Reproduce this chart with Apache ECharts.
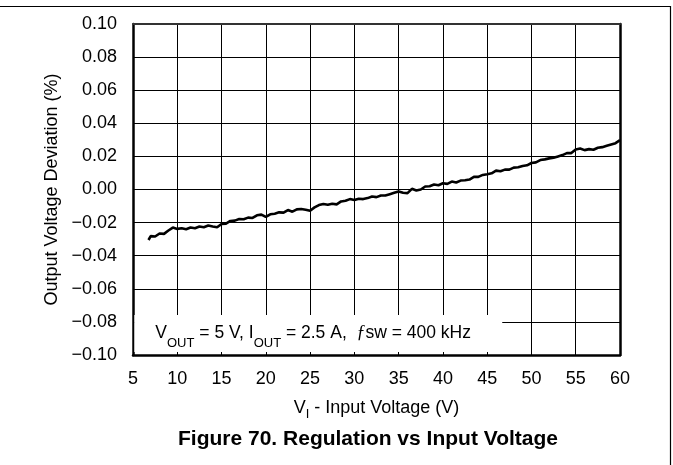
<!DOCTYPE html>
<html>
<head>
<meta charset="utf-8">
<title>Regulation vs Input Voltage</title>
<script src="https://cdn.jsdelivr.net/npm/echarts@6/dist/echarts.min.js"></script>
<style>
  html, body { margin: 0; padding: 0; background: #fff; }
  #chart { width: 673px; height: 465px; }
</style>
</head>
<body>
<div id="chart"></div>
<script>
// Input voltage samples (V)
const inputVoltage = [
  6.75, 7.0, 7.5, 8.0, 8.5, 9.0, 9.5, 10.0, 10.5, 11.0, 11.5, 12.0, 12.5, 13.0, 13.5, 14.0, 14.5,
  15.0, 15.5, 16.0, 16.5, 17.0, 17.5, 18.0, 18.5, 19.0, 19.5, 20.0, 20.5, 21.0, 21.5, 22.0, 22.5,
  23.0, 23.5, 24.0, 24.5, 25.0, 25.5, 26.0, 26.5, 27.0, 27.5, 28.0, 28.5, 29.0, 29.5, 30.0, 30.5,
  31.0, 31.5, 32.0, 32.5, 33.0, 33.5, 34.0, 34.5, 35.0, 35.5, 36.0, 36.5, 37.0, 37.5, 38.0, 38.5,
  39.0, 39.5, 40.0, 40.5, 41.0, 41.5, 42.0, 42.5, 43.0, 43.5, 44.0, 44.5, 45.0, 45.5, 46.0, 46.5,
  47.0, 47.5, 48.0, 48.5, 49.0, 49.5, 50.0, 50.5, 51.0, 51.5, 52.0, 52.5, 53.0, 53.5, 54.0, 54.5,
  55.0, 55.5, 56.0, 56.5, 57.0, 57.5, 58.0, 58.5, 59.0, 59.5, 60.0
];

// Output voltage deviation (%) at each input voltage
const deviation = [
  -0.0305, -0.0282, -0.0284, -0.0266, -0.0268, -0.0248, -0.0230, -0.0238, -0.0234, -0.0240, -0.0230, -0.0234, -0.0224, -0.0228, -0.0218, -0.0224, -0.0228,
  -0.0208, -0.0206, -0.0190, -0.0188, -0.0178, -0.0180, -0.0170, -0.0172, -0.0156, -0.0152, -0.0166, -0.0150, -0.0146, -0.0138, -0.0140, -0.0124,
  -0.0134, -0.0120, -0.0118, -0.0122, -0.0128, -0.0108, -0.0094, -0.0088, -0.0092, -0.0086, -0.0090, -0.0072, -0.0068, -0.0058, -0.0064, -0.0056,
  -0.0058, -0.0052, -0.0042, -0.0046, -0.0036, -0.0036, -0.0028, -0.0020, -0.0012, -0.0020, -0.0022, 0.0004, -0.0006, 0.0000, 0.0018, 0.0020,
  0.0030, 0.0026, 0.0038, 0.0034, 0.0048, 0.0042, 0.0054, 0.0056, 0.0060, 0.0076, 0.0076, 0.0088, 0.0092, 0.0098, 0.0114, 0.0110,
  0.0120, 0.0120, 0.0132, 0.0134, 0.0142, 0.0146, 0.0160, 0.0164, 0.0178, 0.0182, 0.0188, 0.0192, 0.0200, 0.0208, 0.0220, 0.0220,
  0.0242, 0.0248, 0.0238, 0.0244, 0.0240, 0.0252, 0.0256, 0.0264, 0.0272, 0.0280, 0.0298
];

// Axis ranges and tick labels
const xMin = 5, xMax = 60, xStep = 5;
const yMin = -0.1, yMax = 0.1, yStep = 0.02;
const yTickLabels = ['\u22120.10', '\u22120.08', '\u22120.06', '\u22120.04', '\u22120.02',
                     '0.00', '0.02', '0.04', '0.06', '0.08', '0.10'];

// White box behind the operating-condition note (data coordinates)
const noteBoxX = [5.15, 46.7];
const noteBoxY = [-0.0982, -0.0758];

const FONT = "'Liberation Sans', Arial, Helvetica, sans-serif";

const chart = echarts.init(document.getElementById('chart'), null, { renderer: 'canvas' });

const gridLine = { show: true, lineStyle: { color: '#000', width: 1 } };

chart.setOption({
  backgroundColor: '#fff',
  animation: false,
  textStyle: { fontFamily: FONT, color: '#000' },
  title: {
    text: 'Figure 70. Regulation vs Input Voltage',
    left: 363,
    top: 424,
    textAlign: 'center',
    textStyle: { fontFamily: FONT, fontSize: 21, fontWeight: 'bold', color: '#000' }
  },
  grid: { left: 133, right: 53, top: 24, bottom: 110, containLabel: false },
  xAxis: [
    {
      type: 'value', min: xMin, max: xMax, interval: xStep,
      position: 'bottom',
      axisLine: { show: true, onZero: false, lineStyle: { color: '#000', width: 2.5 } },
      axisTick: { show: false },
      splitLine: gridLine,
      axisLabel: { color: '#000', fontSize: 18, fontFamily: FONT, margin: 15 },
      name: '{v|V}{s|I}{v| - Input Voltage (V)}',
      nameLocation: 'middle',
      nameGap: 40,
      nameTextStyle: {
        rich: {
          v: { fontSize: 18, fontFamily: FONT, color: '#000', lineHeight: 26 },
          s: { fontSize: 13, fontFamily: FONT, color: '#000', verticalAlign: 'bottom' }
        }
      }
    },
    {
      type: 'value', min: xMin, max: xMax, interval: xStep,
      position: 'top',
      axisLine: { show: true, onZero: false, lineStyle: { color: '#333', width: 2 } },
      axisTick: { show: false },
      axisLabel: { show: false },
      splitLine: { show: false }
    }
  ],
  yAxis: [
    {
      type: 'value', min: yMin, max: yMax, interval: yStep,
      position: 'left',
      axisLine: { show: true, onZero: false, lineStyle: { color: '#000', width: 2.5 } },
      axisTick: { show: false },
      splitLine: gridLine,
      axisLabel: {
        color: '#000', fontSize: 18, fontFamily: FONT, margin: 16,
        formatter: v => yTickLabels[Math.round((v - yMin) / yStep)]
      },
      name: 'Output Voltage Deviation (%)',
      nameLocation: 'middle',
      nameGap: 71,
      nameTextStyle: { fontSize: 18, fontFamily: FONT, color: '#000' }
    },
    {
      type: 'value', min: yMin, max: yMax, interval: yStep,
      position: 'right',
      axisLine: { show: true, onZero: false, lineStyle: { color: '#000', width: 2.5 } },
      axisTick: { show: false },
      axisLabel: { show: false },
      splitLine: { show: false }
    }
  ],
  series: [
    {
      type: 'line',
      xAxisIndex: 0,
      yAxisIndex: 0,
      data: inputVoltage.map((v, i) => [v, deviation[i]]),
      showSymbol: false,
      symbol: 'none',
      lineStyle: { color: '#000', width: 2.6 },
      z: 3,
      markArea: {
        silent: true,
        itemStyle: { color: '#fff', opacity: 1 },
        label: {
          show: true,
          position: 'insideLeft',
          distance: 21,
          formatter: '{n|V}{s|OUT}{n| = 5 V, I}{s|OUT}{n| = 2.5 A,  }{f|\u0192}{n|sw = 400 kHz}',
          rich: {
            n: { fontSize: 17.5, fontFamily: FONT, color: '#000', lineHeight: 33 },
            s: { fontSize: 13, fontFamily: FONT, color: '#000', verticalAlign: 'bottom' },
            f: { fontSize: 18, fontFamily: "'Liberation Serif', 'Times New Roman', serif", fontStyle: 'italic', color: '#000', lineHeight: 33 }
          }
        },
        data: [[
          { xAxis: noteBoxX[0], yAxis: noteBoxY[0] },
          { xAxis: noteBoxX[1], yAxis: noteBoxY[1] }
        ]]
      }
    }
  ],
  graphic: [
    { type: 'line', silent: true, shape: { x1: 0, y1: 6.5, x2: 671, y2: 6.5 }, style: { stroke: '#000', lineWidth: 1.2 } },
    { type: 'line', silent: true, shape: { x1: 670.5, y1: 6, x2: 670.5, y2: 465 }, style: { stroke: '#000', lineWidth: 1.2 } }
  ]
});
</script>
</body>
</html>
